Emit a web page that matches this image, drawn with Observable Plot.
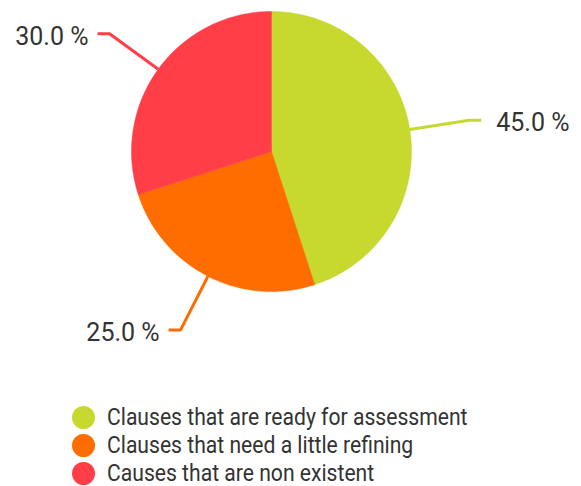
<!DOCTYPE html>
<html><head><meta charset="utf-8">
<script src="https://cdn.jsdelivr.net/npm/d3@7"></script>
<script src="https://cdn.jsdelivr.net/npm/@observablehq/plot@0.6"></script>
<style>
body{margin:0;background:#fff;font-family:Roboto,sans-serif;}
#chart{position:relative;width:581px;height:486px;overflow:hidden;}
#chart svg{position:absolute;left:0;top:0;}
.legend{position:absolute;left:72px;top:403px;}
.row{display:flex;align-items:center;height:28px;}
.sw{width:23px;height:23px;border-radius:50%;margin-right:12px;flex:none;}
.lab{font-size:24px;color:#333;transform:scaleX(.88);transform-origin:left center;white-space:nowrap;}
</style></head><body><div id="chart"></div>
<script>
const categories = ["Clauses that are ready for assessment","Clauses that need a little refining","Causes that are non existent"];
const values = [45, 25, 30];
const labels = ["45.0 %","25.0 %","30.0 %"];
const colors = ["#c7d92e","#ff6d00","#ff3e48"];

const W = 581, H = 400, cx = 271, cy = 151, R = 140;
const total = d3.sum(values);
let acc = 0;
const slices = values.map((v, i) => {
  const a0 = acc / total * 2 * Math.PI; acc += v;
  const a1 = acc / total * 2 * Math.PI;
  return {i, a0, a1, mid: (a0 + a1) / 2};
});
// wedge outlines (geometry of each arc)
const wedgePts = slices.flatMap(s => {
  const n = Math.max(2, Math.ceil((s.a1 - s.a0) / (Math.PI / 180)));
  const pts = [{k: s.i, x: 0, y: 0}];
  for (let j = 0; j <= n; j++) {
    const a = s.a0 + (s.a1 - s.a0) * j / n;
    pts.push({k: s.i, x: Math.sin(a), y: Math.cos(a)});
  }
  pts.push({k: s.i, x: 0, y: 0});
  return pts;
});
const r1 = 1.0, r2 = 1.43, hor = 12 / R;
const leaders = slices.flatMap(s => {
  const sx = Math.sin(s.mid), sy = Math.cos(s.mid), side = sx >= 0 ? 1 : -1;
  return [
    {k: s.i, x: sx * r1, y: sy * r1},
    {k: s.i, x: sx * r2, y: sy * r2},
    {k: s.i, x: sx * r2 + side * hor, y: sy * r2}
  ];
});
const ends = slices.map(s => {
  const sx = Math.sin(s.mid), sy = Math.cos(s.mid), side = sx >= 0 ? 1 : -1;
  return {k: s.i, side, x: sx * r2 + side * hor, y: sy * r2, label: labels[s.i]};
});

const plot = Plot.plot({
  width: W, height: H,
  margin: 0,
  x: {domain: [-cx / R, (W - cx) / R], range: [0, W], axis: null},
  y: {domain: [-(H - cy) / R, cy / R], range: [H, 0], axis: null},
  color: {type: "ordinal", domain: [0, 1, 2], range: colors},
  style: {fontFamily: "Roboto, sans-serif", background: "transparent"},
  marks: [
    Plot.line(wedgePts, {x: "x", y: "y", z: "k", fill: "k", stroke: "k", strokeWidth: 0.5, curve: "linear"}),
    Plot.line(leaders, {x: "x", y: "y", z: "k", stroke: "k", strokeWidth: 3, strokeLinejoin: "round", strokeLinecap: "butt"}),
    Plot.text(ends.filter(d => d.side > 0), {x: "x", y: "y", text: "label", textAnchor: "start", dx: 15, dy: 3, fontSize: 25, fill: "#333"}),
    Plot.text(ends.filter(d => d.side < 0), {x: "x", y: "y", text: "label", textAnchor: "end", dx: -9, dy: 3, fontSize: 25, fill: "#333"})
  ]
});
const chart = document.getElementById("chart");
chart.appendChild(plot);
const leg = document.createElement("div");
leg.className = "legend";
categories.forEach((c, i) => {
  const row = document.createElement("div"); row.className = "row";
  const sw = document.createElement("span"); sw.className = "sw"; sw.style.background = colors[i];
  const lab = document.createElement("span"); lab.className = "lab"; lab.textContent = c;
  row.appendChild(sw); row.appendChild(lab); leg.appendChild(row);
});
chart.appendChild(leg);
</script></body></html>
